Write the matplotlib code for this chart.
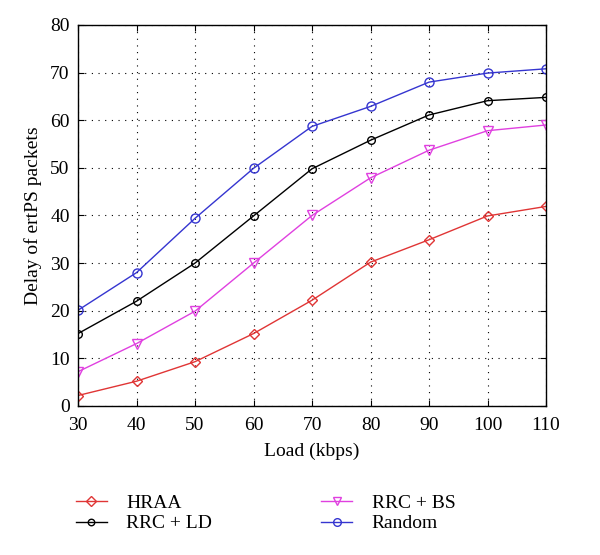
import matplotlib
matplotlib.use("Agg")
import matplotlib.pyplot as plt

plt.rcParams['font.family'] = ['Liberation Serif', 'DejaVu Serif']

load = [30, 40, 50, 60, 70, 80, 90, 100, 110]
hraa = [2.2, 5.2, 9.3, 15.2, 22.2, 30.2, 34.9, 39.9, 41.9]
rrc_ld = [15.2, 22, 30, 39.9, 49.8, 55.8, 61.1, 64.1, 64.8]
rrc_bs = [7.2, 13.1, 19.9, 30, 40, 47.9, 53.7, 57.8, 59]
random_ = [20.1, 28, 39.4, 49.9, 58.7, 62.9, 68, 69.9, 70.8]

fig = plt.figure(figsize=(6, 5.55), dpi=100)
ax = fig.add_axes([0.13, 0.2685, 0.78, 0.6865])

ax.plot(load, hraa, color='#e03535', marker='D', markersize=5.5, mfc='none', mew=1.0, lw=1.0, label='HRAA')
ax.plot(load, rrc_ld, color='black', marker='o', markersize=5.5, mfc='none', mew=1.0, lw=1.0, label='RRC + LD')
ax.plot(load, rrc_bs, color='#e040e0', marker='v', markersize=6.5, mfc='none', mew=1.0, lw=1.0, label='RRC + BS')
ax.plot(load, random_, color='#3535d0', marker='o', markersize=6.5, mfc='none', mew=1.0, lw=1.0, label='Random')

ax.set_xlim(30, 110)
ax.set_ylim(0, 80)
ax.set_xticks(load)
ax.set_yticks(range(0, 81, 10))
ax.grid(True, linestyle=(0, (1, 5)), color='black', linewidth=0.8)
ax.tick_params(direction='in', top=True, right=True, labelsize=14, length=4)
ax.tick_params(axis='x', pad=8)
ax.tick_params(axis='y', pad=6)
ax.set_xlabel('Load (kbps)', fontsize=14, labelpad=6)
ax.set_ylabel('Delay of ertPS packets', fontsize=14, labelpad=6)
for s in ax.spines.values():
    s.set_linewidth(1.0)

fig.legend(loc='upper left', bbox_to_anchor=(0.097, 0.141), ncol=2, frameon=False,
           fontsize=14, handlelength=1.6, columnspacing=5.6, labelspacing=0.15,
           handletextpad=1.0, markerscale=0.85)

fig.savefig('out.png', dpi=100)
